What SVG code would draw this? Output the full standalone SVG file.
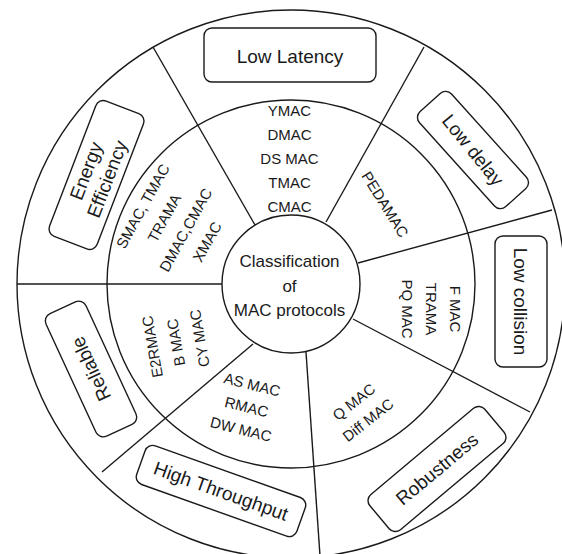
<svg xmlns="http://www.w3.org/2000/svg" width="562" height="554" viewBox="0 0 562 554">
<style>
.ln{stroke:#1a1a1a;stroke-width:1.4;fill:none}
.ring{stroke:#1a1a1a;stroke-width:1.4;fill:none}
.box{fill:#fff;stroke:#1a1a1a;stroke-width:1.4}
text{font-family:"Liberation Sans",Arial,sans-serif;fill:#1a1a1a;text-anchor:middle}
.lbl{font-size:19px}
.sm{font-size:15px}
.ct{font-size:17px}
</style>
<rect width="562" height="554" fill="#fff"/>
<g id="rings">
<circle class="ring" cx="291" cy="284" r="274"/>
<circle class="ring" cx="291" cy="284" r="184"/>
</g>
<g id="connectors">
<line class="ln" x1="153" y1="47" x2="255" y2="225"/>
<line class="ln" x1="424" y1="47" x2="326" y2="222"/>
<line class="ln" x1="552" y1="210" x2="358" y2="263"/>
<line class="ln" x1="353" y1="319" x2="530" y2="412"/>
<line class="ln" x1="306" y1="352" x2="320" y2="556"/>
<line class="ln" x1="253" y1="344" x2="102" y2="472"/>
<line class="ln" x1="17" y1="284" x2="222" y2="284"/>
</g>
<g id="center">
<circle cx="291" cy="284" r="69" fill="#fff" stroke="#1a1a1a" stroke-width="1.4"/>
<text class="ct" x="289.5" y="267">Classification</text>
<text class="ct" x="289.5" y="292">of</text>
<text class="ct" x="289.5" y="316">MAC protocols</text>
</g>
<g id="low-latency">
<rect class="box" x="204" y="28" width="172" height="54" rx="8"/>
<text class="lbl" x="290" y="56" dy="0.35em">Low Latency</text>
</g>
<g id="low-latency-protocols">
<text class="sm" x="289.5" y="116">YMAC</text>
<text class="sm" x="289.5" y="140">DMAC</text>
<text class="sm" x="289.5" y="164">DS MAC</text>
<text class="sm" x="289.5" y="188">TMAC</text>
<text class="sm" x="289.5" y="212">CMAC</text>
</g>
<g id="low-delay" transform="translate(473,150) rotate(48)">
<rect class="box" x="-64" y="-21.5" width="128" height="43" rx="8"/>
<text class="lbl" x="0" y="0" dy="0.35em" transform="rotate(3)">Low delay</text>
</g>
<g id="low-delay-protocols" transform="translate(385,204.5) rotate(58)">
<text class="sm" x="0" y="0" dy="0.35em">PEDAMAC</text>
</g>
<g id="low-collision" transform="translate(521,301.5) rotate(90)">
<rect class="box" x="-65.5" y="-26" width="131" height="52" rx="8"/>
<text class="lbl" x="0" y="0" dy="0.35em">Low collision</text>
</g>
<g id="low-collision-protocols" transform="translate(431,309) rotate(90)">
<text class="sm" x="0" y="-24" dy="0.35em">F MAC</text>
<text class="sm" x="0" y="0" dy="0.35em">TRAMA</text>
<text class="sm" x="0" y="24" dy="0.35em">PQ MAC</text>
</g>
<g id="robustness" transform="translate(437,469) rotate(-40)">
<rect class="box" x="-75" y="-23" width="150" height="46" rx="8"/>
<text class="lbl" x="0" y="0" dy="0.35em">Robustness</text>
</g>
<g id="robustness-protocols" transform="translate(361,411) rotate(-38)">
<text class="sm" x="0" y="-11.5" dy="0.35em">Q MAC</text>
<text class="sm" x="0" y="11.5" dy="0.35em">Diff MAC</text>
</g>
<g id="high-throughput" transform="translate(221,491) rotate(19.6)">
<rect class="box" x="-85" y="-20.5" width="170" height="41" rx="8"/>
<text class="lbl" x="0" y="0" dy="0.35em">High Throughput</text>
</g>
<g id="high-throughput-protocols" transform="translate(246.5,407) rotate(14)">
<text class="sm" x="0" y="-23" dy="0.35em">AS MAC</text>
<text class="sm" x="0" y="0" dy="0.35em">RMAC</text>
<text class="sm" x="0" y="23" dy="0.35em">DW MAC</text>
</g>
<g id="reliable" transform="translate(91,369) rotate(-114.8)">
<rect class="box" x="-67.5" y="-22" width="135" height="44" rx="8"/>
<text class="lbl" x="0" y="0" dy="0.35em">Reliable</text>
</g>
<g id="reliable-protocols" transform="translate(176,342.5) rotate(-100)">
<text class="sm" x="0" y="-24" dy="0.35em">E2RMAC</text>
<text class="sm" x="0" y="0" dy="0.35em">B MAC</text>
<text class="sm" x="0" y="24" dy="0.35em">CY MAC</text>
</g>
<g id="energy-efficiency" transform="translate(96.5,175) rotate(-69)">
<rect class="box" x="-72.5" y="-25.5" width="145" height="51" rx="8"/>
<text class="lbl" x="0" y="-11.25" dy="0.35em">Energy</text>
<text class="lbl" x="0" y="11.25" dy="0.35em">Efficiency</text>
</g>
<g id="energy-efficiency-protocols" transform="translate(175,224) rotate(-61)">
<text class="sm" x="0" y="-36.75" dy="0.35em">SMAC, TMAC</text>
<text class="sm" x="0" y="-12.25" dy="0.35em">TRAMA</text>
<text class="sm" x="0" y="12.25" dy="0.35em">DMAC,CMAC</text>
<text class="sm" x="0" y="36.75" dy="0.35em">XMAC</text>
</g>
</svg>
